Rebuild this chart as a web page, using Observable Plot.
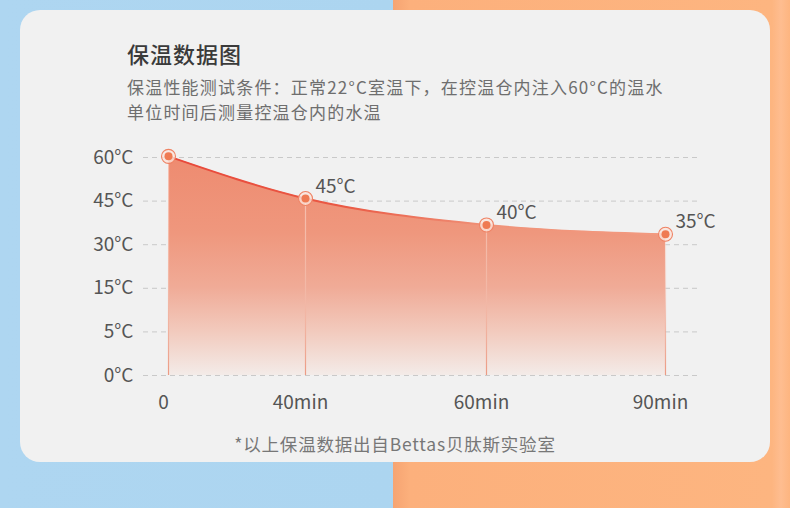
<!DOCTYPE html>
<html>
<head>
<meta charset="utf-8">
<script src="https://cdn.jsdelivr.net/npm/d3@7"></script>
<script src="https://cdn.jsdelivr.net/npm/@observablehq/plot@0.6"></script>
<style>
  html, body { margin: 0; padding: 0; }
  body { width: 790px; height: 508px; overflow: hidden; position: relative;
         font-family: "Noto Sans CJK SC", "Noto Sans", sans-serif; }
  #bg { position: absolute; left: 0; top: 0; width: 790px; height: 508px;
        background: linear-gradient(to right, #aed6f1 0px, #acd5f0 393px, #f6a472 393px, #fcb07c 410px, #fdb580 772px, #febd90 781px, #fdb580 790px); }
  #card { position: absolute; left: 20px; top: 10px; width: 750px; height: 452px;
          border-radius: 20px; background: #f1f1f1; }
  .t { position: absolute; white-space: nowrap; }
  #title { left: 127px; top: 40px; font-size: 22px; line-height: 26px; font-weight: 500; color: #3a3a3a; letter-spacing: 1px; }
  #sub1 { left: 127px; top: 75px; font-size: 17px; line-height: 24px; color: #6e6e6e; letter-spacing: 1.2px; }
  #sub2 { left: 127px; top: 100px; font-size: 17px; line-height: 24px; color: #6e6e6e; letter-spacing: 1.2px; }
  #caption { left: 0; width: 790px; text-align: center; top: 432px; font-size: 17.5px; line-height: 24px; color: #777; letter-spacing: 0.8px; }
  #chart { position: absolute; left: 0; top: 130px; }
</style>
</head>
<body>
<div id="bg"></div>
<div id="card"></div>
<div class="t" id="title">保温数据图</div>
<div class="t" id="sub1">保温性能测试条件：正常22°C室温下，在控温仓内注入60°C的温水</div>
<div class="t" id="sub2">单位时间后测量控温仓内的水温</div>
<div id="chart"></div>
<div class="t" id="caption">*以上保温数据出自Bettas贝肽斯实验室</div>
<script>
// ---- data ----
const times = [0, 40, 60, 90];                 // minutes
const temps = [60.4, 45.9, 36.8, 33.6];        // plotted temperature (°C, as drawn)
const pointLabels = ["", "45°C", "40°C", "35°C"];
const xTickLabels = ["0", "40min", "60min", "90min"];
const yTicks = [0, 5, 15, 30, 45, 60];

const data = times.map((t, i) => ({t, temp: temps[i], label: pointLabels[i]}));

// ---- layout ----
const W = 790, H = 300, plotTop = 27, plotBottom = 245;
const step = (plotBottom - plotTop) / (yTicks.length - 1);

const plot = Plot.plot({
  width: W,
  height: H,
  marginTop: plotTop,
  marginBottom: H - plotBottom,
  marginLeft: 143,
  marginRight: 89,
  style: {background: "transparent", fontFamily: "'Noto Sans CJK SC', sans-serif", color: "#555", overflow: "visible"},
  x: {type: "linear", domain: times, range: [168, 305, 486, 665]},
  y: {type: "linear", domain: yTicks, range: yTicks.map((d, i) => plotBottom - i * step)},
  marks: [
    Plot.ruleY(yTicks, {stroke: "#c9c9c9", strokeWidth: 1, strokeDasharray: "5,4"}),
    Plot.areaY(data, {x: "t", y: "temp", curve: "monotone-x", fill: "url(#areaGrad)"}),
    Plot.ruleX(data, {x: "t", y1: 0, y2: "temp", stroke: "url(#dropGrad)", strokeWidth: 1.2}),
    Plot.line(data, {x: "t", y: "temp", curve: "monotone-x", stroke: "url(#lineGrad)", strokeWidth: 2}),
    Plot.dot(data, {x: "t", y: "temp", r: 7, fill: "#fbe4db", fillOpacity: 0.8, stroke: "#ef8263", strokeWidth: 1.1}),
    Plot.dot(data, {x: "t", y: "temp", r: 4, fill: "#ef7a52"}),
    Plot.text(data, {x: "t", y: "temp", text: "label", dx: 10, dy: -12, textAnchor: "start", fontSize: 19, fill: "#555"}),
    Plot.axisY({ticks: yTicks, tickFormat: d => d + "°C", tickSize: 0, tickPadding: 10, fontSize: 19, label: null}),
    Plot.axisX({ticks: times, tickFormat: d => xTickLabels[times.indexOf(d)], tickSize: 0, tickPadding: 20, dx: -5, fontSize: 19, label: null})
  ]
});

const ys = plot.scale("y"), xs = plot.scale("x");
const yTop = ys.apply(60), yBot = ys.apply(0);
const xL = xs.apply(times[0]), xR = xs.apply(times[times.length - 1]);
plot.insertAdjacentHTML("afterbegin", `
<defs>
  <linearGradient id="areaGrad" x1="0" y1="0" x2="0" y2="1">
    <stop offset="0" stop-color="#ee8b70"/>
    <stop offset="0.35" stop-color="#ef977d"/>
    <stop offset="0.6" stop-color="#f0ab97"/>
    <stop offset="0.8" stop-color="#f2cabd"/>
    <stop offset="1" stop-color="#f3ebe8"/>
  </linearGradient>
  <linearGradient id="dropGrad" gradientUnits="userSpaceOnUse" x1="0" y1="${yTop}" x2="0" y2="${yBot}">
    <stop offset="0" stop-color="#ffffff" stop-opacity="0.45"/>
    <stop offset="0.5" stop-color="#f6c7b8" stop-opacity="0.6"/>
    <stop offset="1" stop-color="#ec9a83"/>
  </linearGradient>
  <linearGradient id="lineGrad" gradientUnits="userSpaceOnUse" x1="${xL}" y1="0" x2="${xR}" y2="0">
    <stop offset="0" stop-color="#e8483a"/>
    <stop offset="0.35" stop-color="#ea5944"/>
    <stop offset="0.65" stop-color="#f09379"/>
    <stop offset="1" stop-color="#f29a80"/>
  </linearGradient>
</defs>`);

document.getElementById("chart").appendChild(plot);
</script>
</body>
</html>
